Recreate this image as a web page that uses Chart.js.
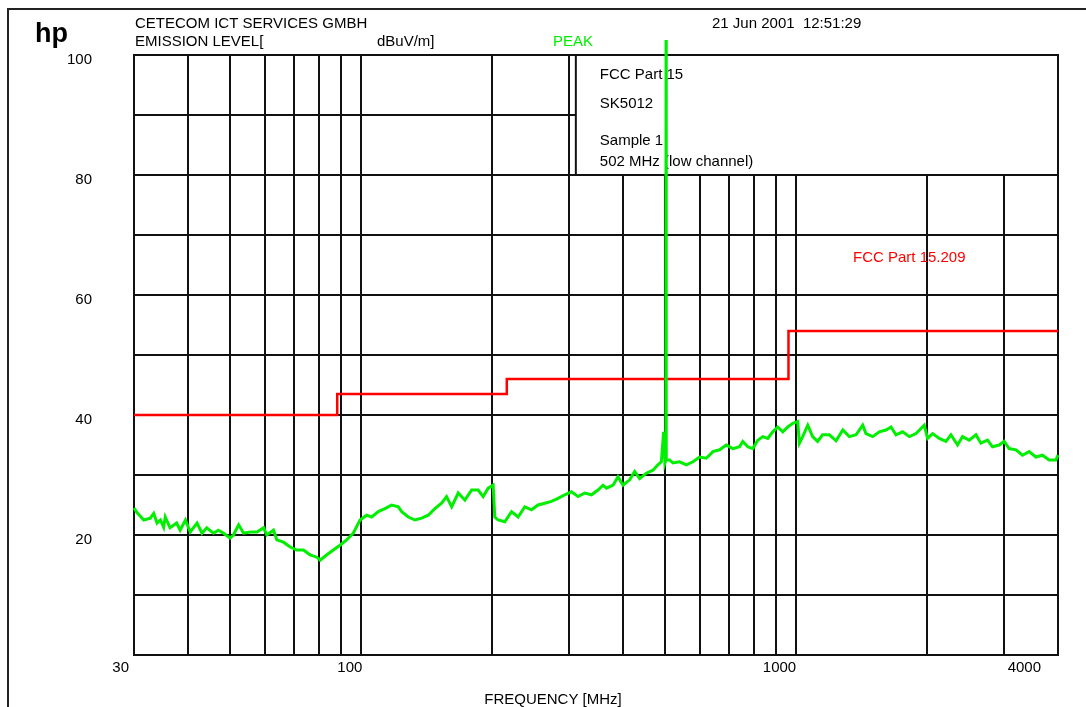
<!DOCTYPE html>
<html>
<head>
<meta charset="utf-8">
<script src="https://cdn.jsdelivr.net/npm/chart.js@4.4.1/dist/chart.umd.min.js"></script>
<style>
  html, body { margin: 0; padding: 0; background: #fff; }
  #wrap { position: relative; width: 1086px; height: 707px; }
</style>
</head>
<body>
<div id="wrap"><canvas id="emi" width="1086" height="707"></canvas></div>
<script>
// ── Data ──────────────────────────────────────────────────────
const freqGrid   = [30, 40, 50, 60, 70, 80, 90, 100, 200, 300, 400, 500, 600, 700, 800, 900, 1000, 2000, 3000, 4000];
const freqLabels = [30, 100, 1000, 4000];
const levelLabels = [20, 40, 60, 80, 100];

// FCC Part 15.209 limit (dBuV/m)
const limitFreq  = [30, 88, 216, 960, 4000];
const limitLevel = [40, 43.5, 46, 54, 54];

// peak sweep, MHz / dBuV/m
const traceFreq = [
  30, 30.5, 31.6, 32.7, 33.3, 33.9, 34.5, 35.1, 35.4, 36.3,
  37.6, 38.3, 39.4, 40.4, 41.9, 43.0, 44.1, 45.7, 46.9, 48.2,
  49.9, 50.8, 52.2, 53.6, 55.5, 57.5, 59.6, 60.6, 62.8, 63.9,
  66.2, 68.6, 71.0, 73.6, 76.2, 79.0, 80.4, 83.3, 86.2, 89.3,
  92.5, 95.8, 99.3, 102.8,
  105.6, 109.4, 113.3, 117.4, 121.6, 123.8, 128.2, 132.8, 137.6, 142.5,
  147.6, 152.9, 157.0, 161.3, 167.0, 173.0, 179.3, 185.6, 190.6, 195.7,
  200.9, 202.7, 206.3, 213.7, 221.5, 229.3, 237.6, 246.2, 254.9, 264.1,
  273.6, 283.4, 293.6, 304.2, 315.0, 326.4, 338.2, 350.2, 359.4,
  366.1, 379.2, 389.2, 399.6, 414.0, 425.1, 436.5, 452.3, 468.3, 480.8,
  489.6, 495.6, 499.0, 501.5, 502, 502.5, 511.6, 520.6, 539.2, 558.9,
  578.8, 599.5, 621.1, 643.3, 666.7, 690.4, 715.0, 740.8, 753.6, 773.7,
  794.6, 815.8, 837.8, 860.4, 883.3, 906.9, 931.4, 956.2, 981.9, 1008,
  1017, 1035, 1063, 1091, 1120, 1150, 1192, 1235,
  1280, 1325, 1373, 1422, 1447, 1499, 1553, 1609, 1652, 1696,
  1757, 1820, 1886, 1970, 2005, 2059, 2133, 2210, 2269, 2350,
  2413, 2500, 2590, 2659, 2754, 2828, 2930, 3008, 3088, 3201,
  3315, 3433, 3557, 3684, 3817, 3954, 4000
];
const traceLevel = [
  24.5, 23.7, 22.5, 22.8, 23.6, 22.0, 22.5, 21.3, 23.0, 21.2,
  22.0, 20.8, 22.5, 20.5, 22.0, 20.3, 21.2, 20.3, 20.8, 20.3,
  19.5, 20.0, 21.7, 20.3, 20.5, 20.5, 21.2, 20.0, 20.8, 19.2,
  18.8, 18.0, 17.5, 17.5, 16.7, 16.3, 15.8, 16.7, 17.5, 18.3,
  19.2, 20.3, 22.5, 23.3,
  23.0, 23.9, 24.4, 25.0, 24.7, 23.9, 23.0, 22.5, 22.8, 23.3,
  24.4, 25.3, 26.4, 24.7, 27.0, 25.8, 27.5, 27.5, 26.4, 27.8,
  28.3, 23.0, 22.5, 22.2, 23.9, 23.0, 24.7, 24.2, 25.0, 25.3,
  25.6, 26.1, 26.7, 27.2, 26.4, 27.0, 26.7, 27.5, 28.3,
  27.8, 28.3, 29.7, 28.3, 29.2, 30.6, 29.4, 30.3, 30.8, 31.7,
  32.2, 37.2, 32.0, 32.5, 102.5, 32.5, 32.5, 32.0, 32.2, 31.7,
  32.2, 33.0, 32.8, 33.9, 34.2, 35.0, 34.4, 34.7, 35.6, 34.7,
  34.4, 35.8, 36.4, 36.1, 37.2, 38.0, 37.2, 38.0, 38.6, 38.9,
  35.3, 36.4, 38.3, 36.4, 35.6, 36.7, 36.7, 35.7,
  37.5, 36.4, 36.7, 38.3, 36.9, 36.4, 37.2, 37.5, 38.0, 36.7,
  37.2, 36.4, 36.9, 38.3, 36.1, 36.9, 36.1, 35.6, 36.7, 35.0,
  36.4, 35.8, 36.7, 35.3, 35.8, 34.7, 35.0, 35.6, 34.4, 34.2,
  33.3, 33.9, 33.0, 33.3, 32.5, 32.5, 33.3
];

const FONT  = 'Arial, "Liberation Sans", sans-serif';
const GREEN = '#00ee00';
const RED   = '#ff0000';
const INK   = '#111';

// ── Plugins ───────────────────────────────────────────────────
// page frame + header texts
const headerPlugin = {
  id: 'header',
  beforeDraw(chart) {
    const ctx = chart.ctx;
    ctx.save();
    ctx.fillStyle = '#fff';
    ctx.fillRect(0, 0, chart.width, chart.height);

    ctx.strokeStyle = '#222';
    ctx.lineWidth = 2;
    ctx.beginPath();
    ctx.moveTo(8, chart.height);
    ctx.lineTo(8, 9);
    ctx.lineTo(chart.width, 9);
    ctx.stroke();

    ctx.fillStyle = '#000';
    ctx.textBaseline = 'alphabetic';
    ctx.textAlign = 'left';
    ctx.font = `bold 27px ${FONT}`;
    ctx.fillText('hp', 35, 42);

    ctx.font = `15px ${FONT}`;
    ctx.fillText('CETECOM ICT SERVICES GMBH', 135, 28);
    ctx.fillText('EMISSION LEVEL[', 135, 46);
    ctx.fillText('dBuV/m]', 377, 46);
    ctx.fillText('21 Jun 2001  12:51:29', 712, 28);
    ctx.fillStyle = GREEN;
    ctx.fillText('PEAK', 553, 46);

    ctx.fillStyle = '#000';
    ctx.textAlign = 'center';
    ctx.fillText('FREQUENCY [MHz]', 553, 704);
    ctx.restore();
  }
};

// info box over the top-right grid, drawn before the traces
const infoBoxPlugin = {
  id: 'infoBox',
  beforeDatasetsDraw(chart) {
    const { ctx, chartArea } = chart;
    const xs = chart.scales.x, ys = chart.scales.y;
    const bx = xs.getPixelForValue(300) + 7;
    const by = chartArea.top;
    const bw = chartArea.right - bx;
    const bh = ys.getPixelForValue(80) - by;
    ctx.save();
    ctx.fillStyle = '#fff';
    ctx.fillRect(bx, by, bw, bh);
    ctx.strokeStyle = INK;
    ctx.lineWidth = 2;
    ctx.strokeRect(bx, by, bw, bh);

    ctx.fillStyle = '#000';
    ctx.font = `15px ${FONT}`;
    ctx.textAlign = 'left';
    ctx.textBaseline = 'alphabetic';
    ctx.fillText('FCC Part 15', bx + 24, by + 24);
    ctx.fillText('SK5012', bx + 24, by + 53);
    ctx.fillText('Sample 1', bx + 24, by + 90);
    ctx.fillText('502 MHz (low channel)', bx + 24, by + 111);

    ctx.fillStyle = RED;
    ctx.fillText('FCC Part 15.209', 853, 262);
    ctx.restore();
  }
};

// frequency labels sit left of their grid lines on the HP plot
const xLabelShift = { 30: -5, 100: 1, 1000: 0, 4000: -17 };
const xLabelPlugin = {
  id: 'xLabels',
  afterDraw(chart) {
    const ctx = chart.ctx, xs = chart.scales.x;
    ctx.save();
    ctx.fillStyle = '#000';
    ctx.font = `15px ${FONT}`;
    ctx.textAlign = 'right';
    ctx.textBaseline = 'alphabetic';
    freqLabels.forEach(v => {
      ctx.fillText(String(v), xs.getPixelForValue(v) + (xLabelShift[v] || 0), 672);
    });
    ctx.restore();
  }
};

// ── Chart ─────────────────────────────────────────────────────
Chart.defaults.font.family = FONT;

new Chart(document.getElementById('emi'), {
  type: 'line',
  data: {
    datasets: [
      {
        label: 'PEAK',
        data: traceFreq.map((f, i) => ({ x: f, y: traceLevel[i] })),
        borderColor: GREEN, borderWidth: 3, pointRadius: 0, tension: 0,
        fill: false, clip: false,
      },
      {
        label: 'FCC Part 15.209',
        data: limitFreq.map((f, i) => ({ x: f, y: limitLevel[i] })),
        borderColor: RED, borderWidth: 2.5, pointRadius: 0, stepped: 'before',
        fill: false,
      },
    ],
  },
  options: {
    responsive: false, animation: false,
    layout: { padding: { left: 44, right: 28, top: 55, bottom: 52 } },
    plugins: { legend: { display: false }, tooltip: { enabled: false } },
    scales: {
      x: {
        type: 'logarithmic', min: 30, max: 4000,
        afterBuildTicks: s => { s.ticks = freqGrid.map(v => ({ value: v })); },
        afterFit: s => { s.height = 0; },
        ticks: { display: false },
        grid: { color: INK, lineWidth: 2, drawTicks: false },
        border: { color: INK, width: 2 },
      },
      y: {
        type: 'linear', min: 0, max: 100,
        afterFit: s => { s.width = 90; },
        ticks: {
          stepSize: 10, autoSkip: false, padding: 42, labelOffset: 5,
          color: '#000', font: { size: 15 },
          callback: v => levelLabels.includes(v) ? String(v) : '',
        },
        grid: { color: INK, lineWidth: 2, drawTicks: false },
        border: { color: INK, width: 2 },
      },
    },
  },
  plugins: [headerPlugin, infoBoxPlugin, xLabelPlugin],
});
</script>
</body>
</html>
